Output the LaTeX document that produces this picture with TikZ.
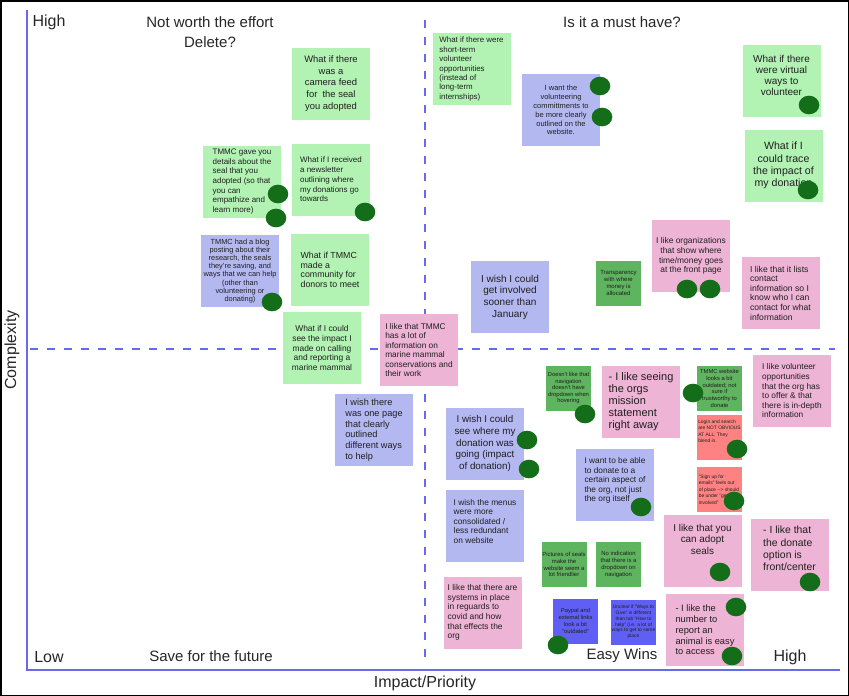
\documentclass[tikz,border=0pt]{standalone}
\usepackage{fontspec}
\setmainfont{Liberation Sans}
\usetikzlibrary{shapes.geometric}

\definecolor{lgreen}{RGB}{178,243,180}
\definecolor{lav}{RGB}{180,184,240}
\definecolor{lpink}{RGB}{238,180,213}
\definecolor{dgreen}{RGB}{95,180,95}
\definecolor{salmon}{RGB}{255,130,130}
\definecolor{vblue}{RGB}{95,95,245}
\definecolor{votegreen}{RGB}{20,110,25}
\definecolor{axisblue}{RGB}{105,105,240}

\begin{document}
\begin{tikzpicture}[x=1pt,y=-1pt,
  note/.style={minimum width=78pt, minimum height=72pt, inner xsep=1pt, inner ysep=2pt, text=black!88},
  smallnote/.style={note, minimum width=45pt, minimum height=45pt, inner xsep=0.5pt},
  fs/.style 2 args={font=\fontsize{#1}{#2}\selectfont},
  vote/.style={ellipse, fill=votegreen, minimum width=20.6pt, minimum height=18.6pt, inner sep=0pt},
  lbl/.style={font=\fontsize{15}{18}\selectfont, text=black!85}]
\useasboundingbox (0,0) rectangle (849,696);
\draw[line width=1.5pt] (0.75,0.75) rectangle (848.25,695.25);

% axes and quadrants
\coordinate (top) at (27,10);
\coordinate (origin) at (27,670);
\coordinate (right) at (840,670);
\coordinate (vtop) at (425,20);
\coordinate (vbot) at (425,665);
\coordinate (hleft) at (30,349);
\coordinate (hright) at (835,349);
\draw[axisblue, line width=1.5pt] (top) -- (origin) -- (right);
\draw[axisblue, line width=2pt, dash pattern=on 8pt off 9pt] (vtop) -- (vbot);
\draw[axisblue, line width=2pt, dash pattern=on 8pt off 9pt] (hleft) -- (hright);

\node[lbl, font=\fontsize{16}{18}\selectfont] (high) at (49,22) {High};
\node[lbl, font=\fontsize{16}{18}\selectfont] (low) at (49,657) {Low};
\node[lbl, font=\fontsize{16}{18}\selectfont] (highr) at (790,657) {High};
\node[lbl, align=center, font=\fontsize{15}{20}\selectfont] (delete) at (210,32) {Not worth the effort\\Delete?};
\node[lbl] (must) at (622,22) {Is it a must have?};
\node[lbl] (save) at (211,656) {Save for the future};
\node[lbl] (easy) at (622,656) {Easy Wins};
\node[lbl, font=\fontsize{16}{18}\selectfont] (impact) at (425,683) {Impact/Priority};
\node[lbl, font=\fontsize{16}{18}\selectfont, rotate=90] (complex) at (12,350) {Complexity};

% not worth the effort
\node[note, fill=lgreen, fs={9.4}{11.7}, align=center] (camera) at (331,83.5) {What if there\\was a\\camera feed\\for\ \ the seal\\you adopted};
\node[note, fill=lgreen, fs={8}{9.6}, align=left] (gave) at (242,181.5) {TMMC gave you\\details about the\\seal that you\\adopted (so that\\you can\\empathize and\\learn more)};
\node[note, fill=lgreen, fs={8}{9.7}, align=left] (letter) at (331,179.5) {What if I received\\a newsletter\\outlining where\\my donations go\\towards};
\node[note, fill=lav, fs={7.4}{8.1}, align=center] (blog) at (240,271) {TMMC had a blog\\posting about their\\research, the seals\\they're saving, and\\ways that we can help\\(other than\\volunteering or\\donating)};
\node[note, fill=lgreen, fs={8.8}{9.7}, align=left] (community) at (330,270) {What if TMMC\\made a\\community for\\donors to meet};
\node[note, fill=lgreen, fs={8.4}{9.6}, align=center] (calling) at (322,348) {What if I could\\see the impact I\\made on calling\\and reporting a\\marine mammal};

% must have
\node[note, fill=lpink, fs={8.3}{9.5}, align=left] (info) at (419,350) {I like that TMMC\\has a lot of\\information on\\marine mammal\\conservations and\\their work};
\node[note, fill=lgreen, fs={7.9}{9.4}, align=left] (short) at (471.5,69) {What if there were\\short-term\\volunteer\\opportunities\\(instead of\\long-term\\internships)};
\node[note, fill=lav, fs={7.5}{8.9}, align=center] (commit) at (561,110) {I want the\\volunteering\\committments to\\be more clearly\\outlined on the\\website.};
\node[note, fill=lgreen, fs={10}{11.3}, align=center] (virtual) at (781.5,81) {What if there\\were virtual\\ways to\\volunteer\\~};
\node[note, fill=lgreen, fs={10.6}{12.2}, align=center] (trace) at (783.5,165.5) {What if I\\could trace\\the impact of\\my donation};
\node[note, fill=lav, fs={10}{11.7}, align=center] (sooner) at (510,297) {I wish I could\\get involved\\sooner than\\January};
\node[smallnote, fill=dgreen, fs={6}{6.8}, align=center] (transp) at (618.5,283) {Transparency\\with where\\money is\\allocated};
\node[note, fill=lpink, fs={8.4}{9.7}, align=center] (orgs) at (691,256) {I like organizations\\that show where\\time/money goes\\at the front page};
\node[note, fill=lpink, fs={8.6}{9.6}, align=left] (contact) at (780.5,293) {I like that it lists\\contact\\information so I\\know who I can\\contact for what\\information};

% save for the future
\node[note, fill=lav, fs={9.2}{10.7}, align=left] (onepage) at (374,430) {I wish there\\was one page\\that clearly\\outlined\\different ways\\to help};

% easy wins
\node[note, fill=lav, fs={9.8}{11.7}, align=center] (going) at (485,443.5) {I wish I could\\see where my\\donation was\\going (impact\\of donation)};
\node[note, fill=lav, fs={8.35}{9.5}, align=left] (menus) at (485,526) {I wish the menus\\were more\\consolidated /\\less redundant\\on website\\~};
\node[smallnote, fill=dgreen, fs={5.8}{6.5}, align=center] (hover) at (568.5,388) {Doesn't like that\\navigation\\doesn't have\\dropdown when\\hovering};
\node[note, fill=lpink, fs={11}{12}, align=left] (mission) at (641,401.5) {- I like seeing\\the orgs\\mission\\statement\\right away};
\node[note, fill=lav, fs={8.3}{9.5}, align=left] (aspect) at (615,484.5) {I want to be able\\to donate to a\\certain aspect of\\the org, not just\\the org itself\\~};
\node[smallnote, fill=dgreen, fs={5.8}{6.8}, align=center] (outdated) at (719.5,388.5) {TMMC website\\looks a bit\\outdated; not\\sure if\\trustworthy to\\donate};
\node[smallnote, fill=salmon, fs={4.9}{6.4}, align=left] (login) at (719.5,437.5) {Login and search\\are NOT OBVIOUS\\AT ALL. They\\blend in.\\~\\~};
\node[smallnote, fill=salmon, fs={4.9}{6.4}, align=left] (signup) at (719,489.5) {"Sign up for\\emails" feels out\\of place {-}{-}> should\\be under "get\\involved"};
\node[note, fill=lpink, fs={8.3}{9.6}, align=left] (volunteer) at (792,391) {I like volunteer\\opportunities\\that the org has\\to offer \& that\\there is in-depth\\information};
\node[smallnote, fill=dgreen, fs={5.9}{6.9}, align=center] (pictures) at (564,564.5) {Pictures of seals\\make the\\website seem a\\lot friendlier};
\node[smallnote, fill=dgreen, fs={5.9}{6.9}, align=center] (dropdown) at (618.5,564.5) {No indication\\that there is a\\dropdown on\\navigation};
\node[note, fill=lpink, fs={8.4}{9.6}, align=left] (covid) at (482.5,612.5) {I like that there are\\systems in place\\in reguards to\\covid and how\\that effects the\\org};
\node[smallnote, fill=vblue, fs={5.8}{6.9}, align=center] (paypal) at (575.5,621) {Paypal and\\external links\\look a bit\\"outdated"};
\node[smallnote, fill=vblue, fs={4.9}{5.8}, align=center] (ways) at (633.5,622) {Unclear if "Ways to\\Give" is different\\than tab "How to\\help" (i.e. a lot of\\ways to get to same\\place};
\node[note, fill=lpink, fs={9.9}{11.7}, align=center] (adopt) at (702.5,551) {I like that you\\can adopt\\seals\\~\\~};
\node[note, fill=lpink, fs={9.3}{10.8}, align=left] (report) at (705,630) {- I like the\\number to\\report an\\animal is easy\\to access};
\node[note, fill=lpink, fs={10.4}{12.2}, align=left] (donate) at (789.5,554.5) {- I like that\\the donate\\option is\\front/center\\~};

% votes
\node[vote] (v1) at (278,194) {};
\node[vote] (v2) at (276,218) {};
\node[vote] (v3) at (365,212) {};
\node[vote] (v4) at (272,302) {};
\node[vote] (v5) at (600,86) {};
\node[vote] (v6) at (602,117) {};
\node[vote] (v7) at (809,105) {};
\node[vote] (v8) at (808,190) {};
\node[vote] (v9) at (687,289) {};
\node[vote] (v10) at (710,289) {};
\node[vote] (v11) at (527,440) {};
\node[vote] (v12) at (529,469) {};
\node[vote] (v13) at (585,414) {};
\node[vote] (v14) at (693,393) {};
\node[vote] (v15) at (641,507) {};
\node[vote] (v16) at (737,449) {};
\node[vote] (v17) at (734,501) {};
\node[vote] (v18) at (558,645) {};
\node[vote] (v19) at (720,572) {};
\node[vote] (v20) at (736,607) {};
\node[vote] (v21) at (732,656) {};
\node[vote] (v22) at (810,582) {};
\end{tikzpicture}
\end{document}
